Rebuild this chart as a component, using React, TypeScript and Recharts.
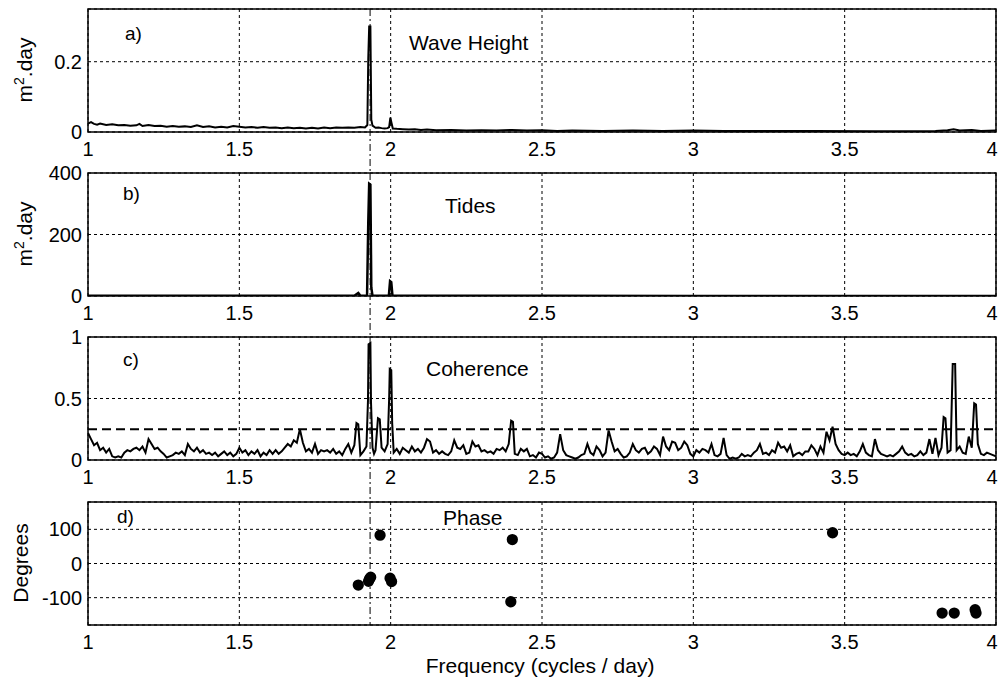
import React from 'react';
import {
  ComposedChart,
  Line,
  Scatter,
  XAxis,
  YAxis,
  ZAxis,
  CartesianGrid,
  ReferenceLine,
  ReferenceArea,
} from 'recharts';

// frequency axis (cycles / day)
const X_TICKS = [1, 1.5, 2, 2.5, 3, 3.5, 4];
const M2_FREQ = 1.932;
const COHERENCE_LEVEL = 0.25;

// a) wave height spectrum [freq, m^2.day]
const waveHeight = [
  [1.0, 0.024], [1.01, 0.028], [1.02, 0.023], [1.03, 0.021], [1.04, 0.024], [1.06, 0.02], [1.08, 0.022],
  [1.1, 0.019], [1.12, 0.02], [1.14, 0.018], [1.16, 0.019], [1.17, 0.023], [1.18, 0.017], [1.2, 0.02],
  [1.22, 0.017], [1.24, 0.018], [1.26, 0.015], [1.28, 0.017], [1.3, 0.015], [1.32, 0.016], [1.34, 0.014],
  [1.36, 0.019], [1.38, 0.014], [1.4, 0.016], [1.42, 0.013], [1.44, 0.015], [1.46, 0.013], [1.48, 0.017],
  [1.5, 0.015], [1.52, 0.013], [1.54, 0.014], [1.56, 0.012], [1.58, 0.014], [1.6, 0.012], [1.62, 0.013],
  [1.64, 0.011], [1.66, 0.013], [1.68, 0.011], [1.7, 0.012], [1.72, 0.01], [1.74, 0.012], [1.76, 0.01],
  [1.78, 0.013], [1.8, 0.011], [1.82, 0.013], [1.84, 0.012], [1.86, 0.013], [1.88, 0.012], [1.9, 0.014],
  [1.915, 0.013], [1.923, 0.02], [1.926, 0.21], [1.929, 0.3], [1.933, 0.3], [1.936, 0.035], [1.94, 0.018],
  [1.95, 0.012], [1.96, 0.013], [1.97, 0.011], [1.98, 0.01], [1.99, 0.011], [1.995, 0.014], [1.999, 0.041],
  [2.003, 0.025], [2.007, 0.01], [2.02, 0.009], [2.04, 0.008], [2.06, 0.007], [2.08, 0.008], [2.1, 0.006],
  [2.12, 0.007], [2.15, 0.005], [2.2, 0.006], [2.25, 0.004], [2.3, 0.005], [2.35, 0.004], [2.4, 0.006],
  [2.45, 0.004], [2.5, 0.005], [2.55, 0.003], [2.6, 0.004], [2.7, 0.003], [2.8, 0.004], [2.9, 0.003],
  [3.0, 0.004], [3.1, 0.003], [3.2, 0.003], [3.4, 0.003], [3.6, 0.002], [3.8, 0.003], [3.84, 0.005],
  [3.86, 0.008], [3.88, 0.004], [3.92, 0.006], [3.95, 0.003], [4.0, 0.004],
];

// b) tide spectrum [freq, m^2.day]
const tides = [
  [1.0, 0.5], [1.5, 0.5], [1.88, 0.5], [1.893, 10], [1.9, 0.5], [1.922, 0.5], [1.926, 240], [1.929, 365],
  [1.933, 362], [1.936, 28], [1.94, 0.5], [1.994, 0.5], [1.998, 48], [2.002, 45], [2.006, 0.5], [2.5, 0.5],
  [3.0, 0.3], [3.5, 0.3], [4.0, 0.3],
];

// c) coherence [freq, coherence]
const coherence = [
  [1.0, 0.22], [1.01, 0.17], [1.02, 0.12], [1.03, 0.14], [1.04, 0.08], [1.05, 0.1], [1.06, 0.06], [1.07, 0.09],
  [1.08, 0.03], [1.09, 0.02], [1.1, 0.03], [1.11, 0.02], [1.12, 0.06], [1.13, 0.08], [1.14, 0.07], [1.15, 0.09],
  [1.16, 0.1], [1.17, 0.08], [1.18, 0.11], [1.19, 0.06], [1.2, 0.17], [1.21, 0.13], [1.22, 0.09], [1.23, 0.1],
  [1.24, 0.07], [1.25, 0.05], [1.26, 0.02], [1.27, 0.03], [1.28, 0.04], [1.29, 0.06], [1.3, 0.05], [1.31, 0.07],
  [1.32, 0.04], [1.33, 0.13], [1.34, 0.09], [1.35, 0.07], [1.36, 0.1], [1.37, 0.06], [1.38, 0.08], [1.39, 0.05],
  [1.4, 0.06], [1.41, 0.04], [1.42, 0.06], [1.43, 0.03], [1.44, 0.05], [1.45, 0.07], [1.46, 0.04], [1.47, 0.06],
  [1.48, 0.03], [1.49, 0.05], [1.5, 0.1], [1.51, 0.06], [1.52, 0.08], [1.53, 0.04], [1.54, 0.07], [1.55, 0.05],
  [1.56, 0.08], [1.57, 0.03], [1.58, 0.06], [1.59, 0.04], [1.6, 0.08], [1.61, 0.05], [1.62, 0.08], [1.63, 0.05],
  [1.64, 0.07], [1.65, 0.1], [1.66, 0.13], [1.67, 0.11], [1.68, 0.16], [1.69, 0.14], [1.7, 0.25], [1.71, 0.14],
  [1.72, 0.07], [1.73, 0.09], [1.74, 0.06], [1.75, 0.13], [1.76, 0.05], [1.77, 0.08], [1.78, 0.07], [1.79, 0.08],
  [1.8, 0.06], [1.81, 0.09], [1.82, 0.05], [1.83, 0.07], [1.84, 0.04], [1.85, 0.09], [1.86, 0.13], [1.87, 0.06],
  [1.88, 0.12], [1.887, 0.3], [1.893, 0.29], [1.9, 0.04], [1.91, 0.07], [1.92, 0.11], [1.925, 0.48],
  [1.927, 0.94], [1.933, 0.95], [1.935, 0.47], [1.94, 0.1], [1.945, 0.05], [1.95, 0.08], [1.958, 0.34],
  [1.964, 0.33], [1.97, 0.1], [1.98, 0.07], [1.99, 0.13], [1.995, 0.5], [1.997, 0.74], [2.002, 0.73],
  [2.005, 0.3], [2.01, 0.06], [2.02, 0.09], [2.03, 0.05], [2.04, 0.1],
  [2.05, 0.08], [2.06, 0.06], [2.07, 0.11], [2.08, 0.07], [2.09, 0.09], [2.1, 0.06], [2.11, 0.1], [2.12, 0.17],
  [2.13, 0.15], [2.14, 0.06], [2.15, 0.08], [2.16, 0.05], [2.17, 0.07], [2.18, 0.05], [2.19, 0.04], [2.2, 0.07],
  [2.21, 0.16], [2.22, 0.1], [2.23, 0.09], [2.24, 0.12], [2.25, 0.05], [2.26, 0.06], [2.27, 0.15], [2.28, 0.11],
  [2.29, 0.12], [2.3, 0.07], [2.31, 0.08], [2.32, 0.06], [2.33, 0.07], [2.34, 0.05], [2.35, 0.09], [2.36, 0.08],
  [2.37, 0.1], [2.38, 0.07], [2.39, 0.13], [2.398, 0.32], [2.404, 0.31], [2.41, 0.05], [2.42, 0.04],
  [2.43, 0.09], [2.44, 0.07],
  [2.45, 0.09], [2.46, 0.03], [2.47, 0.04], [2.48, 0.02], [2.49, 0.06], [2.5, 0.05], [2.51, 0.02], [2.52, 0.03],
  [2.53, 0.01], [2.54, 0.02], [2.55, 0.06], [2.56, 0.21], [2.57, 0.08], [2.58, 0.04], [2.59, 0.03], [2.6, 0.02],
  [2.61, 0.01], [2.62, 0.02], [2.63, 0.04], [2.64, 0.05], [2.65, 0.13], [2.66, 0.06], [2.67, 0.04], [2.68, 0.11],
  [2.69, 0.08], [2.7, 0.03], [2.71, 0.06], [2.72, 0.24], [2.73, 0.15], [2.74, 0.07], [2.75, 0.09], [2.76, 0.05],
  [2.77, 0.02], [2.78, 0.03], [2.79, 0.06], [2.8, 0.13], [2.81, 0.08], [2.82, 0.06], [2.83, 0.09], [2.84, 0.1],
  [2.85, 0.05], [2.86, 0.07], [2.87, 0.11], [2.88, 0.09], [2.89, 0.04], [2.9, 0.19], [2.91, 0.11], [2.92, 0.08],
  [2.93, 0.15], [2.94, 0.14], [2.95, 0.08], [2.96, 0.1], [2.97, 0.15], [2.98, 0.12], [2.99, 0.05], [3.0, 0.03],
  [3.01, 0.08], [3.02, 0.06], [3.03, 0.09], [3.04, 0.08], [3.05, 0.06], [3.06, 0.13], [3.07, 0.04], [3.08, 0.03],
  [3.09, 0.05], [3.1, 0.18], [3.11, 0.04], [3.12, 0.01], [3.13, 0.02], [3.14, 0.01], [3.15, 0.02], [3.16, 0.05],
  [3.17, 0.03], [3.18, 0.04], [3.19, 0.03], [3.2, 0.06], [3.21, 0.08], [3.22, 0.13], [3.23, 0.05], [3.24, 0.06],
  [3.25, 0.04], [3.26, 0.08], [3.27, 0.06], [3.28, 0.14], [3.29, 0.1], [3.3, 0.11], [3.31, 0.07], [3.32, 0.12],
  [3.33, 0.03], [3.34, 0.05], [3.35, 0.06], [3.36, 0.04], [3.37, 0.07], [3.38, 0.07], [3.39, 0.12], [3.4, 0.09],
  [3.41, 0.04], [3.42, 0.11], [3.43, 0.06], [3.44, 0.23], [3.45, 0.16], [3.46, 0.27], [3.47, 0.13], [3.48, 0.08],
  [3.49, 0.05], [3.5, 0.04], [3.51, 0.06], [3.52, 0.04], [3.53, 0.05], [3.54, 0.03], [3.55, 0.07], [3.56, 0.13],
  [3.57, 0.06], [3.58, 0.04], [3.59, 0.03], [3.6, 0.17], [3.61, 0.08], [3.62, 0.05], [3.63, 0.04], [3.64, 0.03],
  [3.65, 0.04], [3.66, 0.03], [3.67, 0.05], [3.68, 0.07], [3.69, 0.11], [3.7, 0.06], [3.71, 0.04], [3.72, 0.05],
  [3.73, 0.03], [3.74, 0.04], [3.75, 0.07], [3.76, 0.04], [3.77, 0.06], [3.78, 0.17], [3.79, 0.05], [3.8, 0.18],
  [3.81, 0.04], [3.82, 0.1], [3.827, 0.35], [3.833, 0.34], [3.84, 0.06], [3.85, 0.08], [3.857, 0.78],
  [3.865, 0.78], [3.87, 0.08], [3.88, 0.11], [3.89, 0.06], [3.9, 0.05], [3.91, 0.19], [3.92, 0.1],
  [3.928, 0.46], [3.934, 0.45], [3.94, 0.13], [3.95, 0.05],
  [3.96, 0.04], [3.97, 0.06], [3.98, 0.05], [3.99, 0.04], [4.0, 0.03],
];

// d) phase [freq, degrees]
const phase = [
  [1.893, -63], [1.927, -52], [1.93, -45], [1.934, -40], [1.965, 83], [1.998, -43], [2.003, -53],
  [2.397, -112], [2.402, 70], [3.46, 90], [3.822, -145], [3.862, -145], [3.931, -135], [3.934, -145],
];

const FONT = '"Liberation Sans", Arial, Helvetica, sans-serif';
const PLOT_H = 123;
const MT = 14;
const GAP = 41;
const PANEL_TOPS = [9, 173, 337, 502];

const toPts = (rows: number[][]) => rows.map(([f, v]) => ({ f, v }));
const tickStyle = { fill: '#000', fontSize: 20, fontFamily: FONT };

// keeps the last "4" label inside the page edge
const FreqTick = (props: any) => {
  const { x, y, payload } = props;
  const shift = payload.value === 4 ? -4 : 0;
  return (
    <text x={x + shift} y={y} dy="0.71em" textAnchor="middle" fill="#000" fontSize={20} fontFamily={FONT}>
      {payload.value}
    </text>
  );
};

interface PanelProps {
  top: number;
  domain: [number, number];
  yTicks: number[];
  extend?: boolean;
  children: React.ReactNode;
}

function Panel({ top, domain, yTicks, extend = true, children }: PanelProps) {
  const lo = extend ? domain[0] - ((domain[1] - domain[0]) * GAP) / PLOT_H : domain[0];
  return (
    <div style={{ position: 'absolute', left: 0, top: top - MT }}>
      <ComposedChart
        width={1000}
        height={MT + PLOT_H + GAP}
        margin={{ top: MT, right: 4, bottom: 0, left: 0 }}
      >
        <CartesianGrid stroke="#000" strokeDasharray="3 3" strokeWidth={1} />
        <XAxis
          dataKey="f"
          type="number"
          domain={[1, 4]}
          ticks={X_TICKS}
          interval={0}
          height={GAP}
          axisLine={false}
          tickLine={false}
          tickMargin={4}
          tick={<FreqTick />}
          allowDataOverflow
        />
        <YAxis
          dataKey="v"
          type="number"
          domain={domain}
          ticks={yTicks}
          interval={0}
          width={88}
          axisLine={false}
          tickLine={false}
          tickMargin={0}
          tick={tickStyle}
          allowDataOverflow
        />
        <ZAxis range={[100, 100]} />
        <ReferenceArea
          x1={1}
          x2={4}
          y1={domain[0]}
          y2={domain[1]}
          fill="none"
          fillOpacity={0}
          stroke="#000"
          strokeWidth={1.5}
          ifOverflow="visible"
        />
        <ReferenceLine
          segment={[
            { x: M2_FREQ, y: domain[1] },
            { x: M2_FREQ, y: lo },
          ]}
          stroke="#000"
          strokeDasharray="7 3 2 3"
          ifOverflow="visible"
        />
        {children}
      </ComposedChart>
    </div>
  );
}

const txt = (left: number, top: number, size: number, s: React.ReactNode) => (
  <div
    style={{
      position: 'absolute',
      left,
      top,
      fontSize: size,
      lineHeight: 1,
      fontFamily: FONT,
      transform: 'translateY(-50%)',
      whiteSpace: 'nowrap',
    }}
  >
    {s}
  </div>
);

const vtxt = (cx: number, cy: number, s: React.ReactNode) => (
  <div
    style={{
      position: 'absolute',
      left: cx,
      top: cy,
      fontSize: 21,
      lineHeight: 1,
      fontFamily: FONT,
      transform: 'translate(-50%, -50%) rotate(-90deg)',
      whiteSpace: 'nowrap',
    }}
  >
    {s}
  </div>
);

const m2day = (
  <span>
    m<sup style={{ fontSize: 14 }}>2</sup>.day
  </span>
);

export default function App() {
  return (
    <div style={{ position: 'absolute', left: 0, top: 0, width: 1000, height: 682, background: '#fff' }}>
      <Panel top={PANEL_TOPS[0]} domain={[0, 0.35]} yTicks={[0, 0.2]}>
        <Line data={toPts(waveHeight)} dataKey="v" stroke="#000" strokeWidth={2} dot={false} isAnimationActive={false} type="linear" />
      </Panel>
      <Panel top={PANEL_TOPS[1]} domain={[0, 400]} yTicks={[0, 200, 400]}>
        <Line data={toPts(tides)} dataKey="v" stroke="#000" strokeWidth={2.5} dot={false} isAnimationActive={false} type="linear" />
      </Panel>
      <Panel top={PANEL_TOPS[2]} domain={[0, 1]} yTicks={[0, 0.5, 1]}>
        <ReferenceLine y={COHERENCE_LEVEL} stroke="#000" strokeWidth={2} strokeDasharray="9 5" />
        <Line data={toPts(coherence)} dataKey="v" stroke="#000" strokeWidth={2} dot={false} isAnimationActive={false} type="linear" />
      </Panel>
      <Panel top={PANEL_TOPS[3]} domain={[-180, 180]} yTicks={[-100, 0, 100]} extend={false}>
        <Scatter data={toPts(phase)} dataKey="v" fill="#000" isAnimationActive={false} />
      </Panel>

      {txt(125, 33, 19, 'a)')}
      {txt(123, 193, 19, 'b)')}
      {txt(123, 359, 19, 'c)')}
      {txt(117, 516, 19, 'd)')}
      {txt(409, 42, 21, 'Wave Height')}
      {txt(445, 205, 21, 'Tides')}
      {txt(426, 368, 21, 'Coherence')}
      {txt(443, 517, 21, 'Phase')}
      {vtxt(23, 70, m2day)}
      {vtxt(23, 234, m2day)}
      {vtxt(20, 563, 'Degrees')}
      <div
        style={{
          position: 'absolute',
          left: 540,
          top: 665,
          fontSize: 21,
          lineHeight: 1,
          fontFamily: FONT,
          transform: 'translate(-50%, -50%)',
          whiteSpace: 'nowrap',
        }}
      >
        Frequency (cycles / day)
      </div>
    </div>
  );
}
